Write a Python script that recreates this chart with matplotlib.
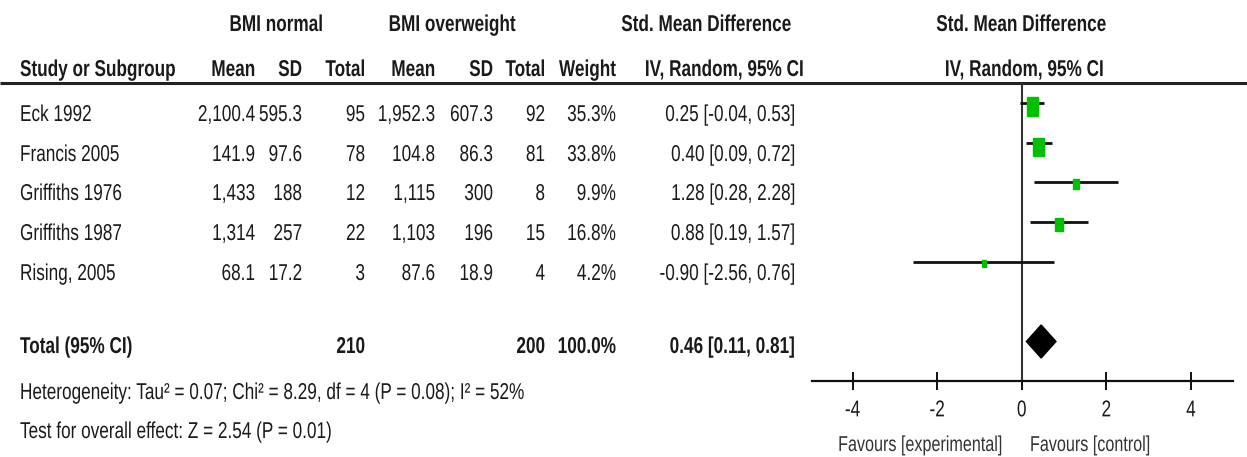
import numpy as np
import matplotlib.pyplot as plt
from matplotlib.patches import Rectangle, Polygon
from matplotlib.patheffects import AbstractPathEffect
from matplotlib.transforms import Affine2D

plt.rcParams['font.family'] = ['Liberation Sans', 'DejaVu Sans']
plt.rcParams['axes.unicode_minus'] = False

# ---------------------------------------------------------------
# DATA
# ---------------------------------------------------------------
studies   = ["Eck 1992", "Francis 2005", "Griffiths 1976", "Griffiths 1987", "Rising, 2005"]
mean_norm = ["2,100.4", "141.9", "1,433", "1,314", "68.1"]
sd_norm   = ["595.3", "97.6", "188", "257", "17.2"]
n_norm    = [95, 78, 12, 22, 3]
mean_over = ["1,952.3", "104.8", "1,115", "1,103", "87.6"]
sd_over   = ["607.3", "86.3", "300", "196", "18.9"]
n_over    = [92, 81, 8, 15, 4]
weight    = [35.3, 33.8, 9.9, 16.8, 4.2]
smd       = [0.25, 0.40, 1.28, 0.88, -0.90]
ci_low    = [-0.04, 0.09, 0.28, 0.19, -2.56]
ci_high   = [0.53, 0.72, 2.28, 1.57, 0.76]

total_smd, total_low, total_high = 0.46, 0.11, 0.81
heterogeneity = "Heterogeneity: Tau² = 0.07; Chi² = 8.29, df = 4 (P = 0.08); I² = 52%"
overall = "Test for overall effect: Z = 2.54 (P = 0.01)"
ticks = [-4, -2, 0, 2, 4]

# ---------------------------------------------------------------
# LAYOUT (pixel coords, y down)
# ---------------------------------------------------------------
W, H = 1247, 457
FS = 16.5
SX = 0.75          # reference font is a narrow face
TXT = '#1a1a1a'
GREEN = '#00c000'
row_base = [121, 161, 200, 240, 280]
total_base = 353
col_right = [255, 302, 365, 435, 493, 545, 616]
ci_right = 795
line_y = 83
axis_y = 381
x0_px, px_per_unit = 1021.7, 42.3


class Squeeze(AbstractPathEffect):
    """narrow glyphs horizontally about a fixed x (display px)"""
    def __init__(self, x_anchor, sx=SX):
        super().__init__()
        self._tr = Affine2D().translate(-x_anchor, 0).scale(sx, 1).translate(x_anchor, 0)

    def draw_path(self, renderer, gc, tpath, affine, rgbFace=None):
        renderer.draw_path(gc, tpath, affine + self._tr, rgbFace)


fig = plt.figure(figsize=(W / 100, H / 100), dpi=100)
ax = fig.add_axes([0, 0, 1, 1])
ax.set_xlim(0, W)
ax.set_ylim(H, 0)
ax.axis('off')


def t(x, y, s, ha='left', bold=False, color=TXT, size=FS):
    ax.text(x, y, s, ha=ha, va='baseline', fontsize=size, color=color,
            fontweight='bold' if bold else 'normal',
            path_effects=[Squeeze(x)])


# header
t(276, 31, "BMI normal", ha='center', bold=True)
t(452, 31, "BMI overweight", ha='center', bold=True)
t(706, 31, "Std. Mean Difference", ha='center', bold=True)
t(1021, 31, "Std. Mean Difference", ha='center', bold=True)
t(20, 76, "Study or Subgroup", bold=True)
for x, s in zip(col_right, ["Mean", "SD", "Total", "Mean", "SD", "Total", "Weight"]):
    t(x, 76, s, ha='right', bold=True)
t(724, 76, "IV, Random, 95% CI", ha='center', bold=True)
t(1024, 76, "IV, Random, 95% CI", ha='center', bold=True)
ax.plot([0, W], [line_y, line_y], color='#222222', lw=2.2, solid_capstyle='butt')

# study rows
for i, y in enumerate(row_base):
    t(20, y, studies[i])
    vals = [mean_norm[i], sd_norm[i], str(n_norm[i]), mean_over[i], sd_over[i],
            str(n_over[i]), f"{weight[i]:.1f}%"]
    for x, s in zip(col_right, vals):
        t(x, y, s, ha='right')
    t(ci_right, y, f"{smd[i]:.2f} [{ci_low[i]:.2f}, {ci_high[i]:.2f}]", ha='right')

# totals
t(20, total_base, "Total (95% CI)", bold=True)
t(col_right[2], total_base, str(sum(n_norm)), ha='right', bold=True)
t(col_right[5], total_base, str(sum(n_over)), ha='right', bold=True)
t(col_right[6], total_base, "100.0%", ha='right', bold=True)
t(ci_right, total_base, f"{total_smd:.2f} [{total_low:.2f}, {total_high:.2f}]", ha='right', bold=True)
t(20, 399, heterogeneity)
t(20, 438, overall)

# ---------------------------------------------------------------
# forest panel
# ---------------------------------------------------------------
left_px, right_px = 812, 1233
axf = fig.add_axes([left_px / W, (H - axis_y) / H, (right_px - left_px) / W, (axis_y - line_y) / H])
axf.set_xlim((left_px - x0_px) / px_per_unit, (right_px - x0_px) / px_per_unit)
axf.set_ylim(axis_y, line_y)
axf.patch.set_alpha(0)
for s in ['left', 'right', 'top']:
    axf.spines[s].set_visible(False)
axf.spines['bottom'].set_linewidth(1.6)
axf.spines['bottom'].set_color('#111111')
axf.set_yticks([])
axf.set_xticks(ticks)
axf.set_xticklabels([str(v) for v in ticks])
axf.tick_params(axis='x', direction='inout', length=13, width=1.4, color='#111111',
                labelsize=FS, labelcolor=TXT, pad=6)
for v, lab in zip(ticks, axf.get_xticklabels()):
    lab.set_path_effects([Squeeze(axf.transData.transform((v, 0))[0])])
axf.axvline(0, color='#333333', lw=1.5)

for i, y in enumerate(row_base):
    py = y - 18
    axf.plot([ci_low[i], ci_high[i]], [py, py], color='#111111', lw=2.0, solid_capstyle='butt')
    h = 3.15 * np.sqrt(weight[i])
    w = h / 1.7 / px_per_unit
    axf.add_patch(Rectangle((smd[i] - w / 2, py - 0.3 * h), w, h, color=GREEN, zorder=3, clip_on=False))

dy = 16.5
cy = total_base - 11.5
axf.add_patch(Polygon([[total_low, cy], [total_smd, cy - dy], [total_high, cy], [total_smd, cy + dy]],
                      closed=True, color='black', clip_on=False, zorder=3))

t(1002, 451, "Favours [experimental]", ha='right', color='#333333', size=15.5)
t(1030, 451, "Favours [control]", ha='left', color='#333333', size=15.5)

fig.savefig("out.png", dpi=100)
